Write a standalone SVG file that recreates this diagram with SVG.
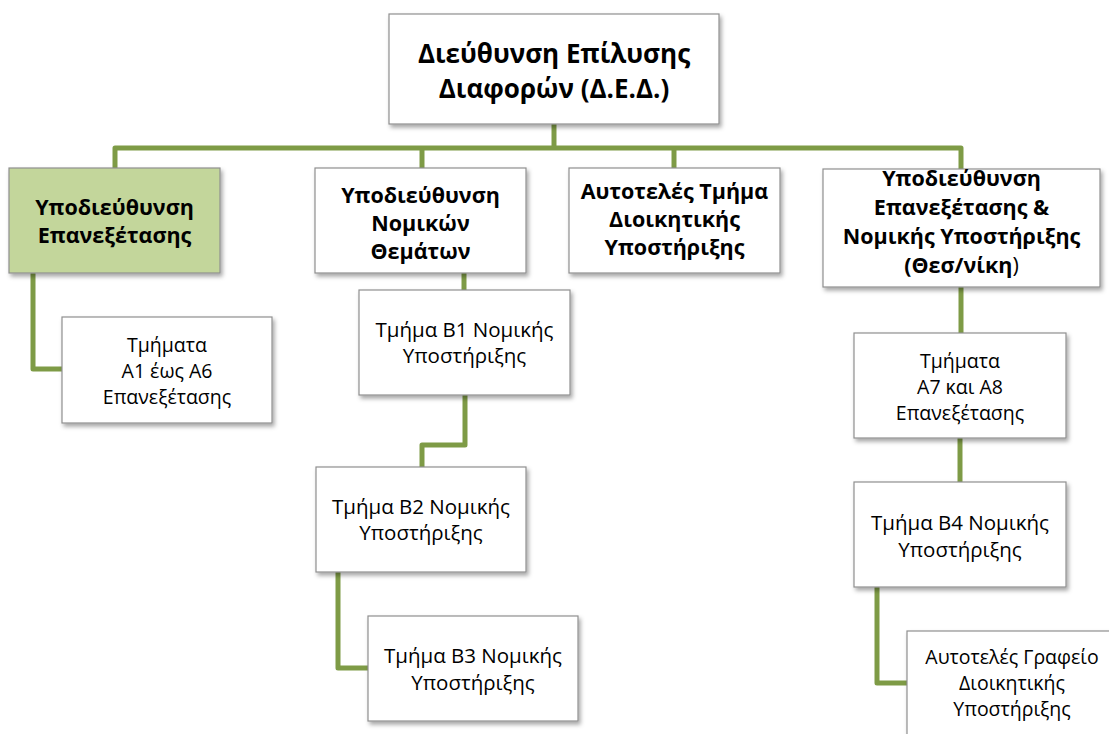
<svg xmlns="http://www.w3.org/2000/svg" width="1109" height="734" viewBox="0 0 1109 734">
<defs>
<filter id="sh" x="-10%" y="-10%" width="125%" height="130%">
<feDropShadow dx="2" dy="3" stdDeviation="2" flood-color="#000" flood-opacity="0.35"/>
</filter>
<style>
.box{fill:#fff;stroke:#8f8f8f;stroke-width:1.2;filter:url(#sh)}
.green{fill:#c3d69b}
.t{font-family:"Open Sans","Noto Sans",sans-serif;font-size:20.5px;fill:#000;text-anchor:middle}
.s{font-size:19.5px}
.b{font-weight:bold;font-size:21.5px}
.big{font-weight:bold;font-size:26px}
.c{fill:none;stroke:#7e9b46;stroke-width:5;stroke-linejoin:round;stroke-linecap:butt}
</style>
</defs>
<rect width="1109" height="734" fill="#fff"/>
<g id="connectors">
<path class="c" d="M554 124 V148"/>
<path class="c" d="M115 168 V148 H961 V169"/>
<path class="c" d="M422 148 V168"/>
<path class="c" d="M674 148 V169"/>
<path class="c" d="M33 273 V369 H62"/>
<path class="c" d="M464 273 V290"/>
<path class="c" d="M465 395 V445 H422 V467"/>
<path class="c" d="M338 572 V668 H368"/>
<path class="c" d="M961 287 V333"/>
<path class="c" d="M960 438 V482"/>
<path class="c" d="M877 587 V683 H907"/>
</g>
<g id="ded">
<rect class="box" x="389" y="14" width="330" height="110"/>
<text class="t big" x="554" y="63">Διεύθυνση Επίλυσης</text>
<text class="t big" x="554" y="98">Διαφορών (Δ.Ε.Δ.)</text>
</g>
<g id="ypod-epanexetasis">
<rect class="box green" x="9" y="168" width="211" height="105"/>
<text class="t b" x="114.5" y="215">Υποδιεύθυνση</text>
<text class="t b" x="114.5" y="243">Επανεξέτασης</text>
</g>
<g id="ypod-nomikon">
<rect class="box" x="315" y="168" width="211" height="105"/>
<text class="t b" x="420.5" y="203">Υποδιεύθυνση</text>
<text class="t b" x="420.5" y="231">Νομικών</text>
<text class="t b" x="420.5" y="259">Θεμάτων</text>
</g>
<g id="autoteles-tmima">
<rect class="box" x="569" y="168" width="211" height="105"/>
<text class="t b" x="674.5" y="199">Αυτοτελές Τμήμα</text>
<text class="t b" x="674.5" y="227">Διοικητικής</text>
<text class="t b" x="674.5" y="255">Υποστήριξης</text>
</g>
<g id="ypod-thes">
<rect class="box" x="823" y="169" width="277" height="118"/>
<text class="t b" x="961.5" y="186">Υποδιεύθυνση</text>
<text class="t b" x="961.5" y="215">Επανεξέτασης &amp;</text>
<text class="t b" x="961.5" y="244">Νομικής Υποστήριξης</text>
<text class="t b" x="961.5" y="273">(Θεσ/νίκη<tspan font-weight="normal">)</tspan></text>
</g>
<g id="tmimata-a1-a6">
<rect class="box" x="62" y="317" width="210" height="106"/>
<text class="t s" x="167" y="352">Τμήματα</text>
<text class="t s" x="167" y="378">Α1 έως Α6</text>
<text class="t s" x="167" y="404">Επανεξέτασης</text>
</g>
<g id="tmima-b1">
<rect class="box" x="359" y="290" width="211" height="105"/>
<text class="t" x="464.5" y="337">Τμήμα Β1 Νομικής</text>
<text class="t" x="464.5" y="363">Υποστήριξης</text>
</g>
<g id="tmima-b2">
<rect class="box" x="316" y="467" width="210" height="105"/>
<text class="t" x="421" y="514">Τμήμα Β2 Νομικής</text>
<text class="t" x="421" y="540">Υποστήριξης</text>
</g>
<g id="tmima-b3">
<rect class="box" x="368" y="616" width="210" height="105"/>
<text class="t" x="473" y="663">Τμήμα Β3 Νομικής</text>
<text class="t" x="473" y="690">Υποστήριξης</text>
</g>
<g id="tmimata-a7-a8">
<rect class="box" x="854" y="333" width="212" height="105"/>
<text class="t s" x="960" y="368">Τμήματα</text>
<text class="t s" x="960" y="394">Α7 και Α8</text>
<text class="t s" x="960" y="420">Επανεξέτασης</text>
</g>
<g id="tmima-b4">
<rect class="box" x="854" y="482" width="212" height="105"/>
<text class="t" x="960" y="530">Τμήμα Β4 Νομικής</text>
<text class="t" x="960" y="557">Υποστήριξης</text>
</g>
<g id="autoteles-grafeio">
<rect class="box" x="907" y="631" width="215" height="120"/>
<text class="t s" x="1012" y="664">Αυτοτελές Γραφείο</text>
<text class="t s" x="1012" y="690">Διοικητικής</text>
<text class="t s" x="1012" y="716">Υποστήριξης</text>
</g>
</svg>
